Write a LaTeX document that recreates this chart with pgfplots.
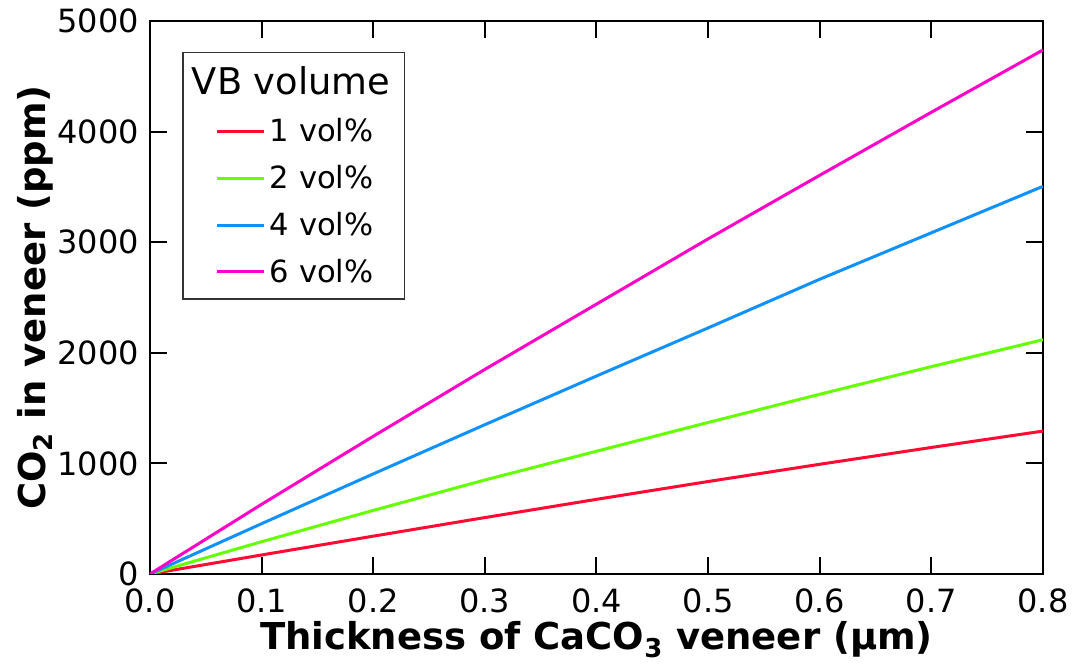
\documentclass[border=0pt]{standalone}
\usepackage{fontspec}
\setmainfont{DejaVu Sans}
\usepackage{pgfplots}
\pgfplotsset{compat=1.18}

\definecolor{cred}{RGB}{255,10,50}
\definecolor{cgreen}{RGB}{100,255,0}
\definecolor{cblue}{RGB}{15,145,255}
\definecolor{cmag}{RGB}{255,0,200}

\begin{document}
\begin{tikzpicture}
\begin{axis}[
    at={(0,0)}, anchor=south west,
    scale only axis,
    width=446.5pt, height=276.5pt,
    xmin=0, xmax=0.8,
    ymin=0, ymax=5000,
    xtick={0,0.1,...,0.8},
    ytick={0,1000,...,5000},
    tick label style={font=\fontsize{16}{19}\selectfont, inner sep=0pt},
    xticklabel style={yshift=-7.3pt, /pgf/number format/.cd, fixed, fixed zerofill, precision=1},
    yticklabel style={xshift=-5.3pt, /pgf/number format/1000 sep={}},
    /pgf/number format/assume math mode=true,
    tick align=inside,
    major tick length=8.5pt,
    every tick/.style={black, line width=1pt},
    axis line style={line width=1.2pt},
    xlabel={\bfseries Thickness of CaCO\textsubscript{3} veneer (µm)},
    ylabel={\bfseries CO\textsubscript{2} in veneer (ppm)},
    label style={font=\fontsize{18.5}{22}\selectfont},
    xlabel style={at={(axis description cs:0.5,-0.119)}, anchor=center},
    ylabel style={at={(axis description cs:-0.129,0.5)}, anchor=center},
    every axis plot/.append style={line width=1.5pt},
    legend cell align=left,
    legend style={
        at={(axis description cs:0.036,0.944)}, anchor=north west,
        draw=black!80, line width=0.7pt,
        font=\fontsize{15.3}{18}\selectfont,
        row sep=6.3pt, inner xsep=5pt, inner ysep=5pt,
    },
    legend image code/.code={\path (0pt,0pt); \draw[#1] (11.5pt,0pt) -- (35pt,0pt);},
]
\addlegendimage{empty legend}
\addlegendentry{\hspace{-39pt}\fontsize{18.4}{21}\selectfont VB volume}

\addplot[cred] coordinates {
    (0,0)(0.1,172)(0.2,342)(0.3,510)(0.4,675)(0.5,836)(0.6,992)(0.7,1144)(0.8,1292)
};
\addlegendentry{1 vol\%}

\addplot[cgreen] coordinates {
    (0,0)(0.1,292)(0.2,575)(0.3,850)(0.4,1110)(0.5,1370)(0.6,1625)(0.7,1875)(0.8,2118)
};
\addlegendentry{2 vol\%}

\addplot[cblue] coordinates {
    (0,0)(0.1,455)(0.2,905)(0.3,1350)(0.4,1790)(0.5,2225)(0.6,2665)(0.7,3085)(0.8,3505)
};
\addlegendentry{4 vol\%}

\addplot[cmag] coordinates {
    (0,0)(0.1,630)(0.2,1245)(0.3,1850)(0.4,2440)(0.5,3030)(0.6,3605)(0.7,4175)(0.8,4738)
};
\addlegendentry{6 vol\%}
\end{axis}
\pgfresetboundingbox
\useasboundingbox (-75pt,-46.5pt) rectangle (461.5pt,287pt);
\end{tikzpicture}
\end{document}
